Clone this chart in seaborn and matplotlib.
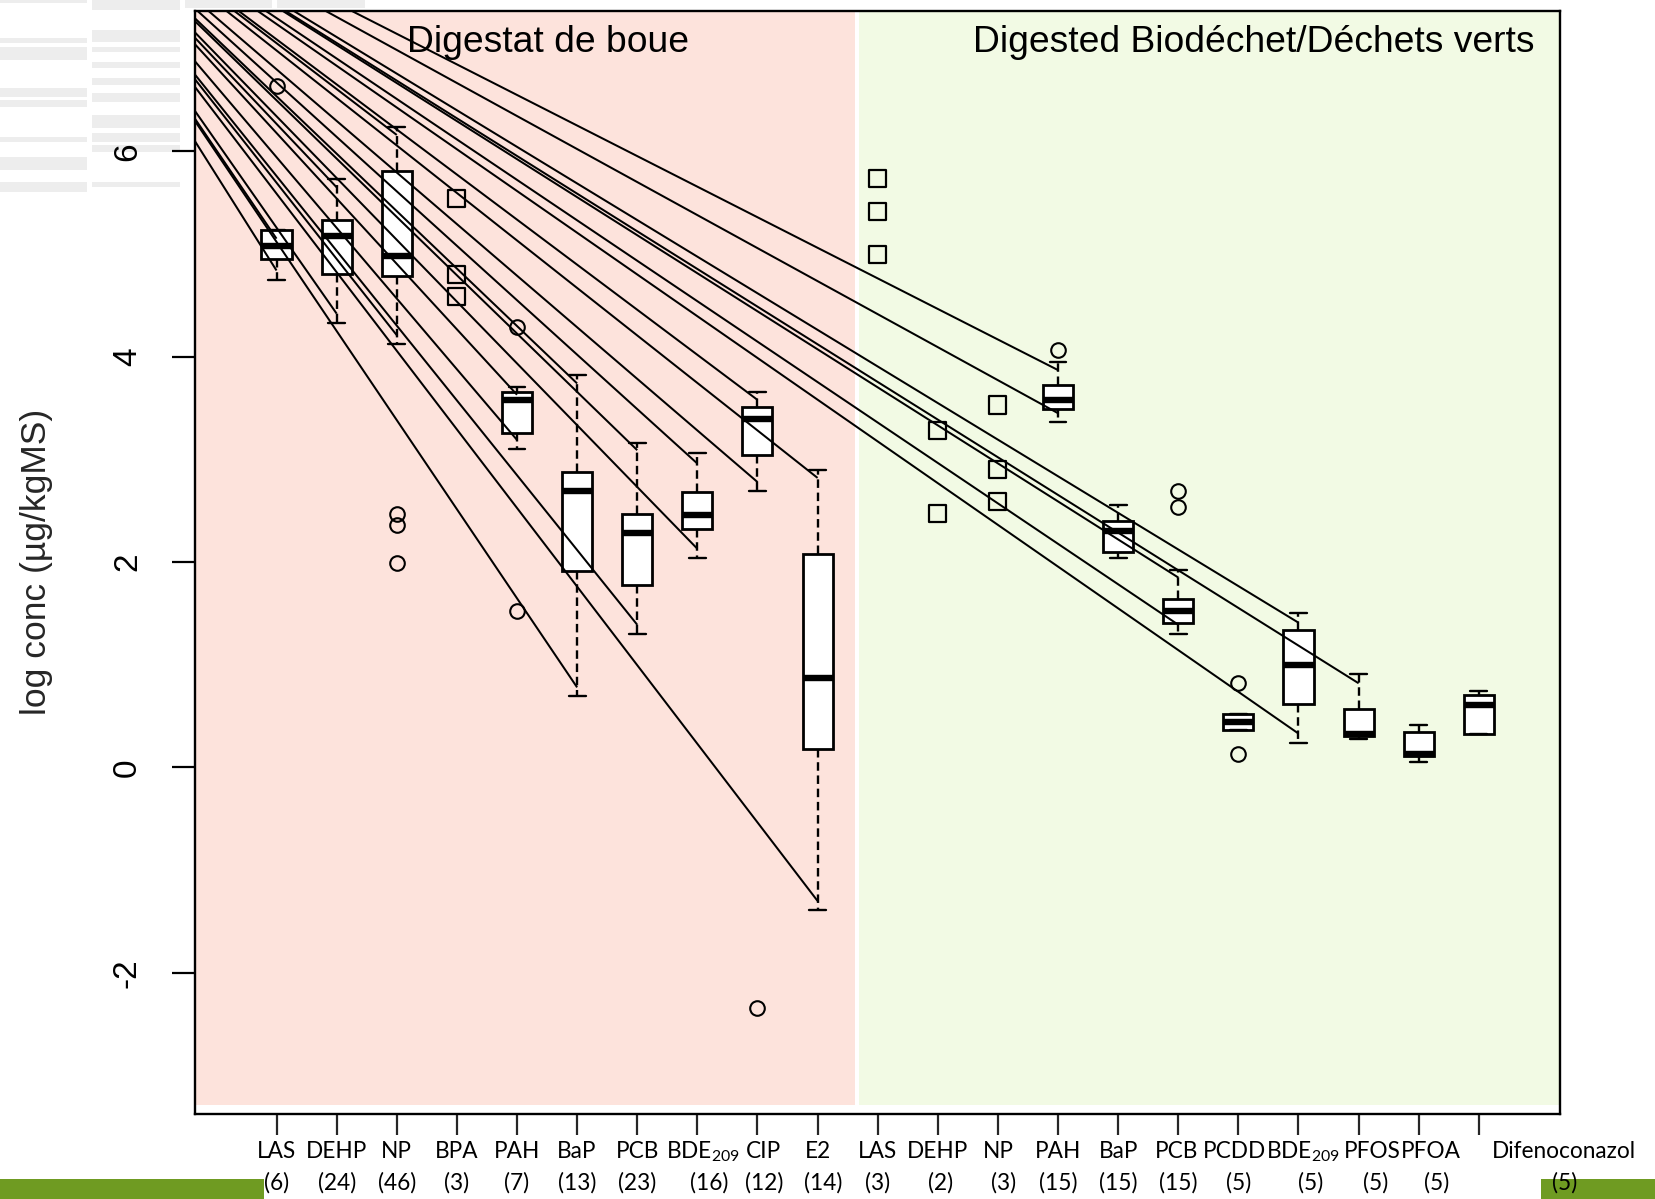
import matplotlib
matplotlib.use("Agg")
import matplotlib.pyplot as plt
import matplotlib.transforms as mtransforms
from matplotlib.patches import Rectangle
import pandas as pd
import seaborn as sns

# ---------------------------------------------------------------- data
compounds = ["LAS", "DEHP", "NP", "BPA", "PAH", "BaP", "PCB", "BDE$_{209}$", "CIP", "E2",
             "LAS", "DEHP", "NP", "PAH", "BaP", "PCB", "PCDD", "BDE$_{209}$", "PFOS", "PFOA",
             "Difenoconazol"]
counts = [6, 24, 46, 3, 7, 13, 23, 16, 12, 14, 3, 2, 3, 15, 15, 15, 5, 5, 5, 5, 5]

# groups summarised as box plots (index into compounds)
box_groups = [0, 1, 2, 4, 5, 6, 7, 8, 9, 13, 14, 15, 16, 17, 18, 19, 20]
whisker_low = [4.75, 4.33, 4.12, 3.10, 0.70, 1.30, 2.04, 2.69, -1.39,
               3.36, 2.04, 1.30, 0.36, 0.24, 0.28, 0.05, 0.33]
quart1 = [4.95, 4.81, 4.79, 3.26, 1.91, 1.78, 2.32, 3.04, 0.18,
          3.49, 2.10, 1.41, 0.36, 0.62, 0.31, 0.11, 0.33]
medians = [5.08, 5.18, 4.98, 3.58, 2.69, 2.28, 2.46, 3.39, 0.87,
           3.58, 2.30, 1.52, 0.445, 1.00, 0.33, 0.13, 0.61]
quart3 = [5.23, 5.33, 5.81, 3.66, 2.88, 2.47, 2.68, 3.51, 2.08,
          3.72, 2.40, 1.64, 0.52, 1.34, 0.57, 0.35, 0.71]
whisker_high = [5.23, 5.73, 6.24, 3.71, 3.82, 3.16, 3.06, 3.66, 2.90,
                3.95, 2.56, 1.92, 0.52, 1.50, 0.91, 0.41, 0.74]
outliers = [[6.64], [], [2.47, 2.36, 1.99], [4.29, 1.52], [], [], [], [-2.34], [],
            [4.07], [], [2.69, 2.54], [0.82, 0.13], [], [], [], []]

# small groups shown as individual values
point_groups = [3, 10, 11, 12]
point_values = [[5.54, 4.80, 4.59], [5.74, 5.41, 5.00], [3.28, 2.47], [3.53, 2.90, 2.59]]

# leader lines: common anchor and the whisker end each one points to
leader_anchor = (-4.60, 9.11)
leader_x = [0, 0, 1, 1, 2, 2, 4, 4, 5, 5, 6, 6, 7, 7, 8, 8, 9, 9,
            13, 13, 15, 15, 17, 17, 18]
leader_y = [4.84, 5.15, 4.42, 5.65, 4.21, 6.16, 3.19, 3.63, 3.74, 0.78, 3.09, 1.39,
            2.96, 2.13, 3.58, 2.78, 2.82, -1.30,
            3.87, 3.45, 1.85, 1.39, 1.41, 0.33, 0.82]

panel_titles = ["Digestat de boue", "Digested Biodéchet/Déchets verts"]
y_label = "log conc (µg/kgMS)"
y_ticks = [-2, 0, 2, 4, 6]

# ---------------------------------------------------------------- style
sns.set_theme(style="white")
plt.rcParams["font.family"] = ["Liberation Sans", "DejaVu Sans"]
plt.rcParams["axes.unicode_minus"] = False
plt.rcParams["mathtext.fontset"] = "custom"
plt.rcParams["mathtext.rm"] = "Lato"
plt.rcParams["mathtext.it"] = "Lato"
plt.rcParams["mathtext.default"] = "rm"

W, H = 1655, 1199
fig = plt.figure(figsize=(W / 100, H / 100), dpi=100)
fig.patch.set_facecolor("white")

ax_left, ax_right, ax_top, ax_bottom = 195, 1560, 10.7, 1113.5
ax = fig.add_axes([ax_left / W, 1 - ax_bottom / H,
                   (ax_right - ax_left) / W, (ax_bottom - ax_top) / H])
ax.set_facecolor("white")

xlim = (-1.356, 21.35)
ylim = (-3.37, 7.37)
ax.set_xlim(*xlim)
ax.set_ylim(*ylim)

# background panels
pink, green = "#fde3dc", "#f2fae4"
ax.add_patch(Rectangle((xlim[0] - 1, -3.29), 9.62 - xlim[0] + 1, 12,
                       facecolor=pink, edgecolor="none", zorder=0))
ax.add_patch(Rectangle((9.69, -3.29), xlim[1] + 1 - 9.69, 12,
                       facecolor=green, edgecolor="none", zorder=0))

# box plots from summary statistics
stats = [dict(whislo=lo, q1=a, med=m, q3=b, whishi=hi, fliers=f)
         for lo, a, m, b, hi, f in zip(whisker_low, quart1, medians, quart3,
                                        whisker_high, outliers)]
ax.bxp(stats, positions=box_groups, widths=0.5, capwidths=0.28,
       patch_artist=True, showfliers=True, manage_ticks=False,
       boxprops=dict(facecolor="white", edgecolor="black", linewidth=2.0),
       whiskerprops=dict(color="black", linewidth=1.7, linestyle=(0, (3.6, 2.0))),
       capprops=dict(color="black", linewidth=1.7),
       medianprops=dict(color="black", linewidth=4.6, solid_capstyle="butt"),
       flierprops=dict(marker="o", markerfacecolor="none", markeredgecolor="black",
                       markersize=10.5, markeredgewidth=1.5),
       zorder=2)

# individual values as open squares
pts = pd.DataFrame({
    "position": [g for g, vals in zip(point_groups, point_values) for _ in vals],
    "value": [v for vals in point_values for v in vals],
})
sns.scatterplot(data=pts, x="position", y="value", marker="s", s=150,
                ax=ax, zorder=2, legend=False)
sq = ax.collections[-1]
sq.set_facecolor("none")
sq.set_edgecolor("black")
sq.set_linewidth(1.6)

# leader lines
for lx, ly in zip(leader_x, leader_y):
    ax.plot([leader_anchor[0], lx], [leader_anchor[1], ly], color="black",
            linewidth=1.45, solid_capstyle="butt", zorder=3)

# panel titles
ax.text(0.2586, 0.9716, panel_titles[0], transform=ax.transAxes,
        ha="center", va="center", fontsize=26.8, color="black", zorder=4)
ax.text(0.981, 0.9716, panel_titles[1], transform=ax.transAxes,
        ha="right", va="center", fontsize=26.8, color="black", zorder=4)

# axes frame and ticks
for sp in ax.spines.values():
    sp.set_linewidth(1.7)
    sp.set_color("black")
    sp.set_zorder(5)
ax.set_yticks(y_ticks)
ax.set_yticklabels([str(t) for t in y_ticks])
ax.tick_params(axis="y", direction="out", length=16.5, width=1.6, pad=21,
               labelsize=24, labelrotation=90, left=True, colors="black")
for lab in ax.get_yticklabels():
    lab.set_va("center")
ax.set_xticks(range(len(compounds)))
ax.set_xticklabels([""] * len(compounds))
ax.tick_params(axis="x", direction="out", length=15, width=1.6, bottom=True)
ax.grid(False)

ax.set_xlabel("")
ax.set_ylabel(y_label, fontsize=25.5, va="center")
ax.yaxis.set_label_coords((37 - ax_left) / (ax_right - ax_left), 0.5)

# slide decorations
deco_green = "#6f9b22"
fig.add_artist(Rectangle((0, 0), 264 / W, 20 / H, transform=fig.transFigure,
                         facecolor=deco_green, edgecolor="none", zorder=0))
fig.add_artist(Rectangle((1541 / W, 0), (W - 1541) / W, 20 / H, transform=fig.transFigure,
                         facecolor=deco_green, edgecolor="none", zorder=0))
haze = [(0, 87, 0, 3), (0, 87, 38, 43), (0, 87, 47, 60), (0, 87, 88, 97),
        (0, 87, 100, 107), (0, 87, 137, 142), (0, 87, 157, 170), (0, 87, 182, 192),
        (92, 180, 0, 10), (92, 180, 30, 42), (92, 180, 47, 52), (92, 180, 62, 68),
        (92, 180, 78, 85), (92, 180, 93, 102), (92, 180, 115, 128), (92, 180, 133, 142),
        (92, 180, 145, 152), (92, 180, 182, 187), (185, 272, 0, 8), (277, 365, 0, 8)]
for x0, x1, y0, y1 in haze:
    fig.add_artist(Rectangle((x0 / W, 1 - y1 / H), (x1 - x0) / W, (y1 - y0) / H,
                             transform=fig.transFigure, facecolor="#ededed",
                             edgecolor="none", zorder=-1))

# category labels under the axis
lab_tr = mtransforms.blended_transform_factory(ax.transData, fig.transFigure)
name_shift = {7: 0.1, 8: 0.1, 15: -0.03, 16: -0.06, 17: 0.08, 18: 0.22, 19: 0.2, 20: 1.42}
count_shift = {7: 0.2, 8: 0.12, 9: 0.1, 11: 0.05, 12: 0.1, 17: 0.2, 18: 0.28,
               19: 0.3, 20: 1.42}
label_font = dict(fontsize=16.3, family="Lato", color="black", clip_on=False, zorder=6)
for i, (name, n) in enumerate(zip(compounds, counts)):
    ax.text(i + name_shift.get(i, 0.0), 1 - 1158 / H, name, transform=lab_tr,
            ha="center", va="baseline", **label_font)
    ax.text(i + count_shift.get(i, 0.0), 1 - 1190 / H, f"({n})", transform=lab_tr,
            ha="center", va="baseline", **label_font)

fig.savefig("out.png", dpi=100, facecolor="white")
